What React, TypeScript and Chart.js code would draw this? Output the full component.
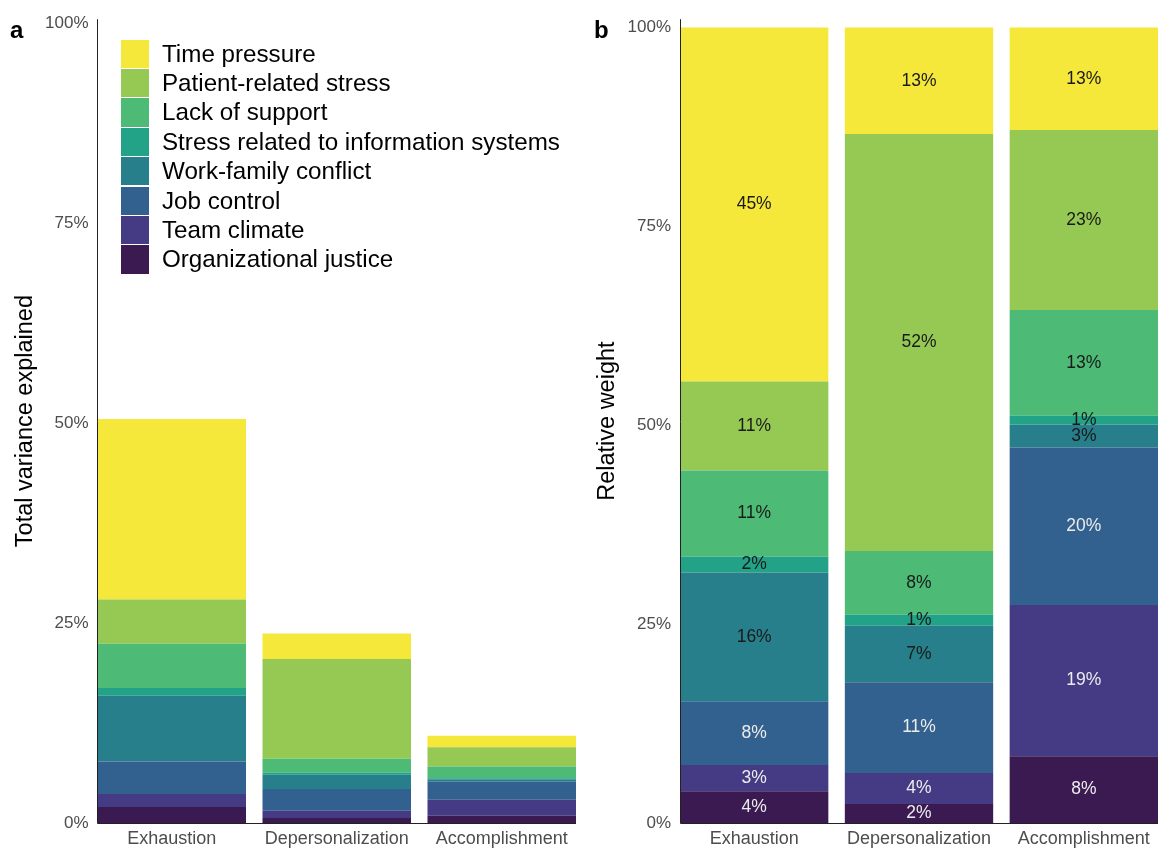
import React, { useEffect, useRef } from 'react';
import { Chart, registerables } from 'chart.js';

Chart.register(...registerables);

const FONT = '"Liberation Sans", Arial, Helvetica, sans-serif';

const categories = ['Exhaustion', 'Depersonalization', 'Accomplishment'];

// dataset order = bottom of the stack first
const seriesNames = [
  'Organizational justice',
  'Team climate',
  'Job control',
  'Work-family conflict',
  'Stress related to information systems',
  'Lack of support',
  'Patient-related stress',
  'Time pressure',
];
const seriesColors = [
  '#3B1A51',
  '#453A84',
  '#33618F',
  '#267F8A',
  '#22A387',
  '#4DBA76',
  '#95C954',
  '#F5E83A',
];
const labelDarkText = [false, false, false, true, true, true, true, true];

// Panel a: total variance explained (%)
const orgJusticeVar = [2.0, 0.62, 0.92];
const teamClimateVar = [1.62, 0.92, 2.0];
const jobControlVar = [4.08, 2.7, 2.25];
const workFamilyVar = [8.23, 1.8, 0.3];
const infoSystemsVar = [0.96, 0.25, 0.13];
const lackSupportVar = [5.53, 1.75, 1.48];
const patientStressVar = [5.53, 12.48, 2.4];
const timePressureVar = [22.58, 3.19, 1.44];

// Panel b: relative weight (%)
const orgJusticeRel = [4.0, 2.4, 8.4];
const teamClimateRel = [3.3, 3.9, 19.0];
const jobControlRel = [8.0, 11.4, 19.8];
const workFamilyRel = [16.2, 7.1, 2.9];
const infoSystemsRel = [2.0, 1.4, 1.1];
const lackSupportRel = [10.8, 8.0, 13.3];
const patientStressRel = [11.2, 52.4, 22.6];
const timePressureRel = [44.5, 13.4, 12.9];

const yTickValues = [0, 25, 50, 75, 100];

const varianceSeries = [
  orgJusticeVar, teamClimateVar, jobControlVar, workFamilyVar,
  infoSystemsVar, lackSupportVar, patientStressVar, timePressureVar,
];
const relativeSeries = [
  orgJusticeRel, teamClimateRel, jobControlRel, workFamilyRel,
  infoSystemsRel, lackSupportRel, patientStressRel, timePressureRel,
];

const barLabelPlugin = {
  id: 'barLabels',
  afterDatasetsDraw(chart: any) {
    const ctx = chart.ctx;
    ctx.save();
    ctx.font = `17.5px ${FONT}`;
    ctx.textAlign = 'center';
    ctx.textBaseline = 'middle';
    chart.data.datasets.forEach((ds: any, i: number) => {
      const meta = chart.getDatasetMeta(i);
      meta.data.forEach((el: any, j: number) => {
        const v = ds.data[j].y;
        ctx.fillStyle = labelDarkText[i] ? '#1a1a1a' : '#ececec';
        ctx.fillText(Math.round(v) + '%', el.x, (el.y + el.base) / 2);
      });
    });
    ctx.restore();
  },
};

// redraw the axis lines on top of the bars, as in the reference
const axisOverPlugin = {
  id: 'axisOver',
  afterDatasetsDraw(chart: any) {
    const { ctx, chartArea } = chart;
    const x = Math.floor(chartArea.left) + 0.5;
    const y = Math.floor(chartArea.bottom) + 0.5;
    ctx.save();
    ctx.strokeStyle = '#222';
    ctx.lineWidth = 1;
    ctx.beginPath();
    ctx.moveTo(x, chartArea.top);
    ctx.lineTo(x, y);
    ctx.lineTo(chartArea.right, y);
    ctx.stroke();
    ctx.restore();
  },
};

function makeConfig(series: number[][], yMax: number, yTitle: string, yWidth: number, padRight: number, titlePad: number, labels: boolean): any {
  return {
    type: 'bar',
    data: {
      datasets: series.map((vals, i) => ({
        label: seriesNames[i],
        data: categories.map((_, k) => ({ x: k + 1, y: vals[k] })),
        backgroundColor: seriesColors[i],
        borderWidth: 0,
        categoryPercentage: 1,
        barPercentage: 0.9,
      })),
    },
    plugins: labels ? [axisOverPlugin, barLabelPlugin] : [axisOverPlugin],
    options: {
      responsive: false,
      animation: false,
      devicePixelRatio: 1,
      layout: { padding: { left: 0, right: padRight, top: 17, bottom: 0 } },
      plugins: { legend: { display: false }, tooltip: { enabled: false } },
      scales: {
        x: {
          type: 'linear',
          min: 0.55,
          max: 3.45,
          offset: false,
          stacked: true,
          grid: { display: false, drawTicks: false, offset: false },
          border: { display: false },
          afterBuildTicks: (s: any) => {
            s.ticks = categories.map((_, i) => ({ value: i + 1 }));
          },
          ticks: {
            autoSkip: false,
            maxRotation: 0,
            padding: 5,
            color: '#4d4d4d',
            font: { size: 18, family: FONT },
            callback: (v: any) => categories[Math.round(Number(v)) - 1] ?? '',
          },
          afterFit: (s: any) => {
            s.height = 26;
          },
        },
        y: {
          type: 'linear',
          min: 0,
          max: yMax,
          stacked: true,
          grid: { display: false, drawTicks: false },
          border: { display: false },
          afterBuildTicks: (s: any) => {
            s.ticks = yTickValues.map((v) => ({ value: v }));
          },
          ticks: {
            padding: 9,
            color: '#4d4d4d',
            font: { size: 17, family: FONT },
            callback: (v: any) => v + '%',
          },
          title: {
            display: true,
            text: yTitle,
            color: '#000',
            font: { size: 23.5, family: FONT },
            padding: { top: titlePad, bottom: 0 },
          },
          afterFit: (s: any) => {
            s.width = yWidth;
          },
        },
      },
    },
  };
}

const legendOrder = [7, 6, 5, 4, 3, 2, 1, 0];

export default function App() {
  const leftRef = useRef<HTMLCanvasElement>(null);
  const rightRef = useRef<HTMLCanvasElement>(null);

  useEffect(() => {
    const a = new Chart(leftRef.current as HTMLCanvasElement, makeConfig(varianceSeries, 100.56, 'Total variance explained', 97.5, 9, 11, false));
    const b = new Chart(rightRef.current as HTMLCanvasElement, makeConfig(relativeSeries, 101.04, 'Relative weight', 100, 0, 13, true));
    return () => {
      a.destroy();
      b.destroy();
    };
  }, []);

  return (
    <div style={{ position: 'absolute', left: 0, top: 0, width: 1158, height: 849, background: '#fff', fontFamily: FONT, overflow: 'hidden' }}>
      <canvas ref={leftRef} width={585} height={849} style={{ position: 'absolute', left: 0, top: 0, width: 585, height: 849 }} />
      <canvas ref={rightRef} width={578} height={849} style={{ position: 'absolute', left: 580, top: 0, width: 578, height: 849 }} />
      <div style={{ position: 'absolute', left: 10, top: 17.7, fontSize: 24, lineHeight: '24px', fontWeight: 'bold', color: '#000' }}>a</div>
      <div style={{ position: 'absolute', left: 594, top: 17.7, fontSize: 24, lineHeight: '24px', fontWeight: 'bold', color: '#000' }}>b</div>
      <div style={{ position: 'absolute', left: 120.7, top: 39 }}>
        {legendOrder.map((i) => (
          <div key={i} style={{ display: 'flex', alignItems: 'center', height: 29.4 }}>
            <div style={{ width: 28.3, height: 28.2, background: seriesColors[i] }} />
            <div style={{ marginLeft: 13, fontSize: 24.2, lineHeight: '28px', color: '#000', whiteSpace: 'nowrap' }}>{seriesNames[i]}</div>
          </div>
        ))}
      </div>
    </div>
  );
}
